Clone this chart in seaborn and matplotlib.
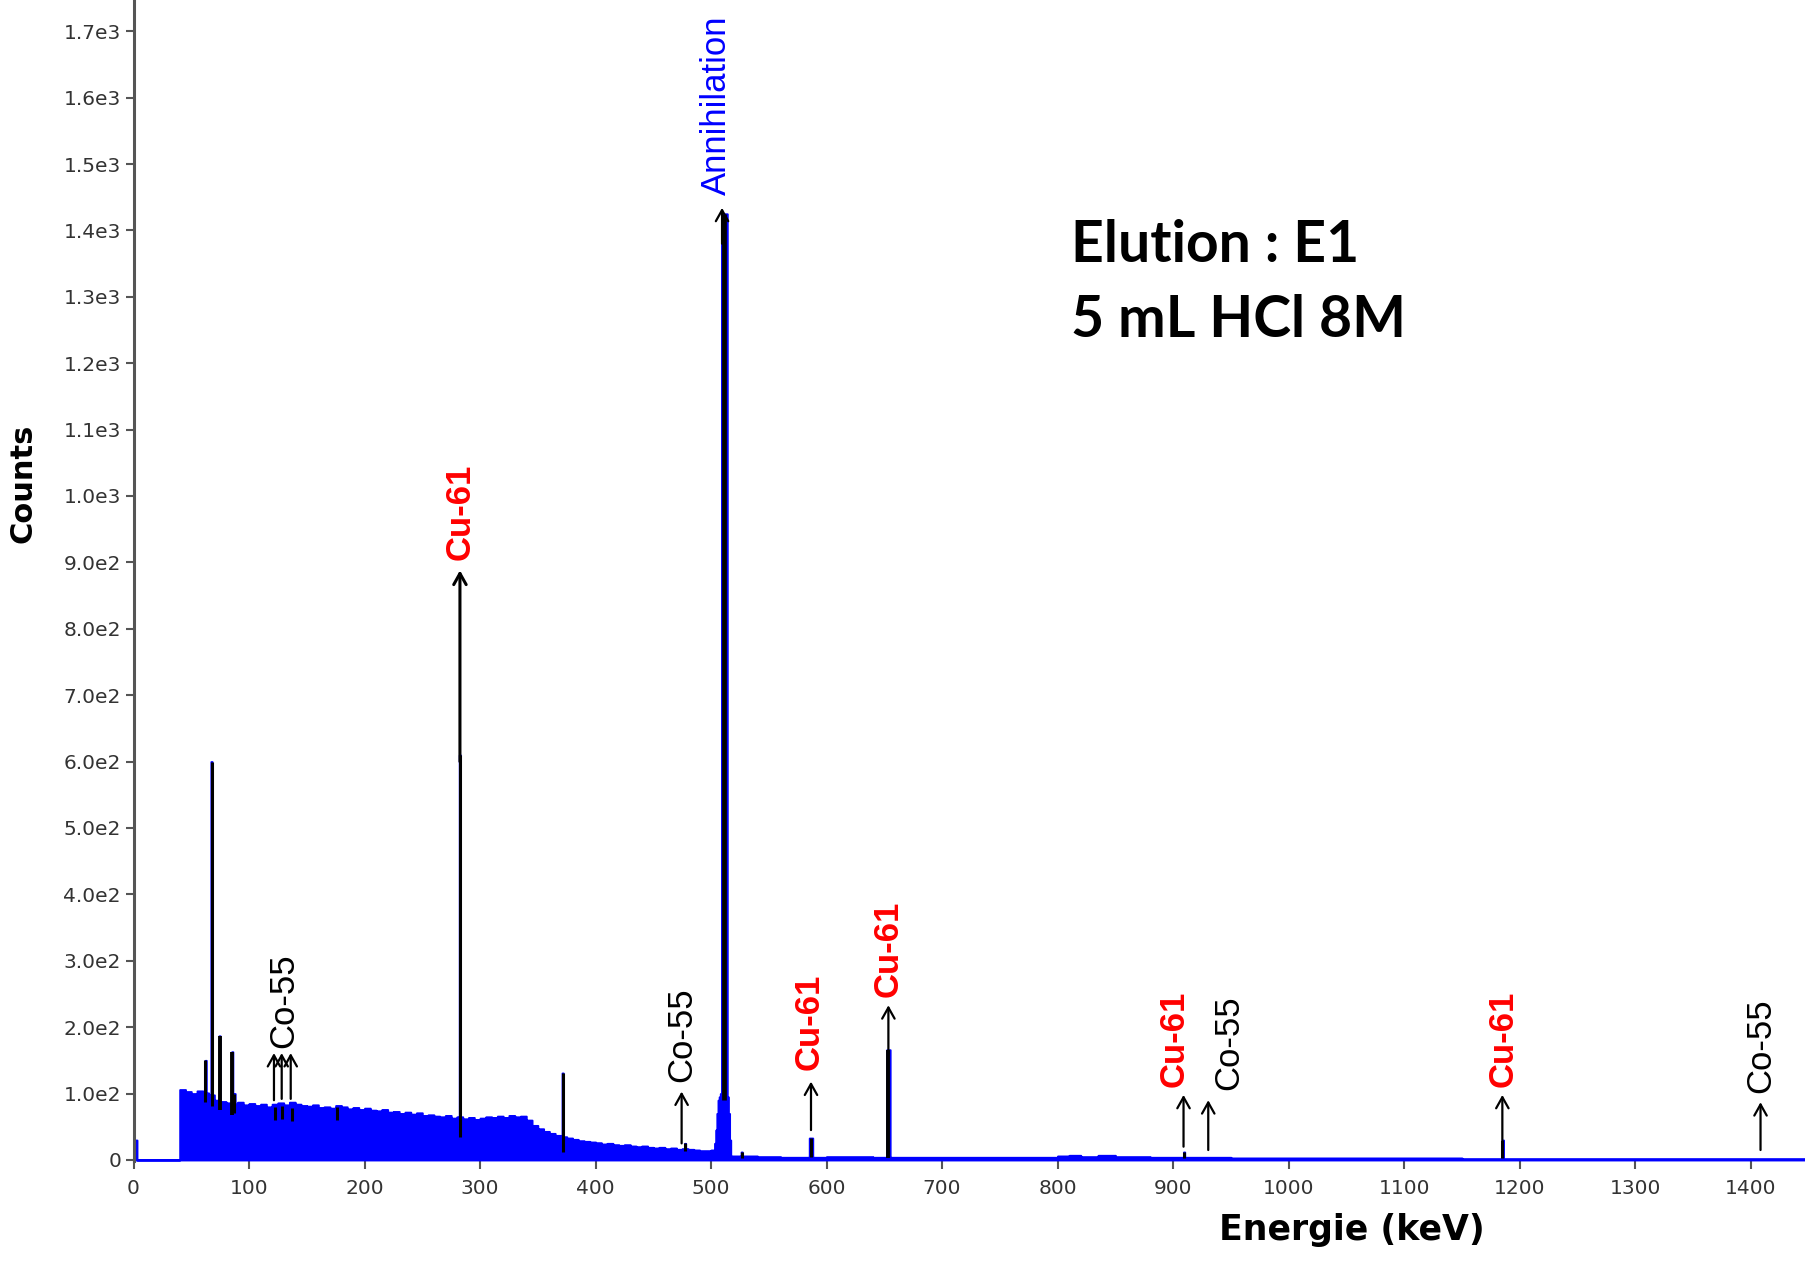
import numpy as np
import pandas as pd
import matplotlib
matplotlib.use("Agg")
import matplotlib.pyplot as plt
import seaborn as sns

# ---------------- data ----------------
# continuum (blue spectrum), step values starting at each energy (keV)
cont_keV = [0, 3] + list(range(40, 505, 5)) + [
    503, 504, 505, 506, 507, 508, 514, 515, 516, 517, 540, 560, 600, 640,
    700, 760, 800, 810, 820, 835, 850, 880, 950, 1050, 1150, 1250, 1350]
cont_counts = [30, 0,
    106, 103, 100, 104, 101, 98, 90, 88, 86, 84,
    87, 83, 85, 82, 84, 80, 84, 86, 83, 87,
    84, 82, 81, 83, 79, 80, 78, 82, 80, 77,
    79, 76, 78, 75, 74, 76, 72, 73, 70, 72,
    69, 71, 67, 68, 66, 65, 67, 63, 65, 62,
    64, 61, 63, 65, 64, 66, 64, 67, 65, 66,
    60, 52, 47, 43, 40, 37, 35, 33, 31, 29,
    28, 27, 26, 24, 25, 23, 22, 23, 21, 20,
    21, 19, 18, 19, 17, 18, 16, 17, 16, 15,
    14, 14, 15,
    25, 45, 70, 90, 95, 100, 95, 70, 30, 6, 5, 4, 5, 4,
    4, 4, 6, 7, 5, 7, 5, 4, 3, 3, 2, 2, 2]

# fitted peaks (black overlays)
peak_keV = [62.0, 67.7, 74.9, 85.0, 87.0, 122.5, 128.3, 137.0, 176.0,
            282.6, 371.5, 477.0, 511.0, 526.5, 586.5, 653.5, 909.0, 1185.0]
peak_top = [150, 600, 187, 163, 100, 80, 82, 78, 80,
            610, 131, 25, 1425, 12, 33, 166, 12, 30]
peak_base = [88, 82, 76, 68, 70, 60, 62, 58, 60,
             35, 12, 14, 90, 3, 5, 3, 3, 3]
peak_halfwidth = [0, 0, 0, 0, 0, 0, 0, 0, 0,
                  0, 0, 0, 2, 0, 1, 1, 0, 0]

# identification arrows
arrow_keV = [121.6, 128.3, 136.1, 282.6, 474.5, 509.5, 586.5, 653.5,
             909.0, 930.4, 1185.0, 1408.5]
arrow_from = [90, 92, 92, 600, 25, 1380, 45, 160, 20, 15, 30, 15]
arrow_to = [161, 161, 161, 888, 103, 1434, 118, 233, 98, 90, 98, 87]

# identification labels
label_text = ["Co-55", "Cu-61", "Co-55", "Annihilation", "Cu-61", "Cu-61",
              "Cu-61", "Co-55", "Cu-61", "Co-55"]
label_keV = [130.3, 283.0, 474.5, 504.6, 584.7, 653.5, 900.9, 947.8,
             1185.9, 1408.5]
label_y = [168, 903, 118, 1453, 135, 246, 110, 105, 110, 101]

xtick_vals = list(range(0, 1500, 100))
ytick_vals = list(range(0, 1800, 100))
ytick_labels = ["0", "1.0e2", "2.0e2", "3.0e2", "4.0e2", "5.0e2", "6.0e2",
                "7.0e2", "8.0e2", "9.0e2", "1.0e3", "1.1e3", "1.2e3", "1.3e3",
                "1.4e3", "1.5e3", "1.6e3", "1.7e3"]

info_lines = ["Elution : E1", "5 mL HCl 8M"]

# ---------------- build channel spectrum (1 keV channels) ----------------
ch = np.arange(0, 1450, 1.0)
idx = np.searchsorted(np.array(cont_keV, dtype=float), ch, side="right") - 1
counts = np.array(cont_counts, dtype=float)[idx]
for e, t, hw in zip(peak_keV, peak_top, peak_halfwidth):
    lo = int(np.floor(e - hw))
    hi = int(np.floor(e + hw))
    counts[lo:hi + 1] = np.maximum(counts[lo:hi + 1], t)
spec = pd.DataFrame({"keV": ch + 0.5, "counts": counts})

# ---------------- plotting ----------------
sns.set_style("white")
plt.rcParams["font.family"] = ["Liberation Sans", "DejaVu Sans"]

W, H = 1805, 1274
fig = plt.figure(figsize=(W / 100, H / 100), dpi=100)
x0_px, y0_px = 133.5, 1161.3
ax = fig.add_axes([x0_px / W, 1 - y0_px / H, 1 - x0_px / W, y0_px / H])

sns.histplot(data=spec, x="keV", weights="counts", binwidth=1,
             binrange=(0, 1450), element="step", fill=True,
             color="#0000ff", edgecolor="#0000ff", alpha=1,
             linewidth=1.4, ax=ax)

lws = [3.4 if t > 1000 else (2.8 if t > 150 and t < 500 else 2.2)
       for t in peak_top]
ax.vlines(peak_keV, peak_base, peak_top, colors="black", linewidth=lws,
          zorder=3)

for e, a, b in zip(arrow_keV, arrow_from, arrow_to):
    lw = 2.2 if b > 500 and b < 1000 else 1.6
    ax.annotate("", xy=(e, b), xytext=(e, a),
                arrowprops=dict(arrowstyle="->,head_length=0.5,head_width=0.28",
                                lw=lw, color="black", shrinkA=0, shrinkB=0,
                                mutation_scale=16),
                zorder=4)

for txt, e, y in zip(label_text, label_keV, label_y):
    if txt.startswith("Cu"):
        col, wt = "#ff0000", "bold"
    elif txt.startswith("Ann"):
        col, wt = "#0000ff", "normal"
    else:
        col, wt = "black", "normal"
    ax.text(e, y, txt, rotation=90, ha="center", va="bottom", fontsize=25,
            color=col, fontweight=wt, zorder=5)

ax.set_xlim(0, 1447)
ax.set_ylim(-2, 1747)
ax.set_xticks(xtick_vals)
ax.set_xticklabels([str(v) for v in xtick_vals])
ax.set_yticks(ytick_vals)
ax.set_yticklabels(ytick_labels)
ax.set_xlabel("")
ax.set_ylabel("")
for lab in ax.get_xticklabels() + ax.get_yticklabels():
    lab.set_family("DejaVu Sans")

for s in ["top", "right", "bottom"]:
    ax.spines[s].set_visible(False)
ax.spines["left"].set_color("#555555")
ax.spines["left"].set_linewidth(2.2)

ax.tick_params(axis="both", direction="out", length=6, width=1.5,
               color="#555555", labelcolor="#333333", labelsize=14.5)
ax.tick_params(axis="y", pad=3, left=True)
ax.tick_params(axis="x", pad=7, bottom=True)

fig.text(23 / W, 1 - 483 / H, "Counts", rotation=90, ha="center",
         va="center", fontsize=22, fontweight="bold", color="black",
         family="DejaVu Sans")
fig.text(1352 / W, 1 - 1230 / H, "Energie (keV)", ha="center", va="center",
         fontsize=25, fontweight="bold", color="black", family="DejaVu Sans")

fig.text(1071 / W, 1 - 262.5 / H, info_lines[0], ha="left", va="baseline",
         fontsize=41, fontweight="bold", color="black", family="Lato")
fig.text(1071 / W, 1 - 337 / H, info_lines[1], ha="left", va="baseline",
         fontsize=41, fontweight="bold", color="black", family="Lato")

fig.savefig("out.png", dpi=100, facecolor="white")
